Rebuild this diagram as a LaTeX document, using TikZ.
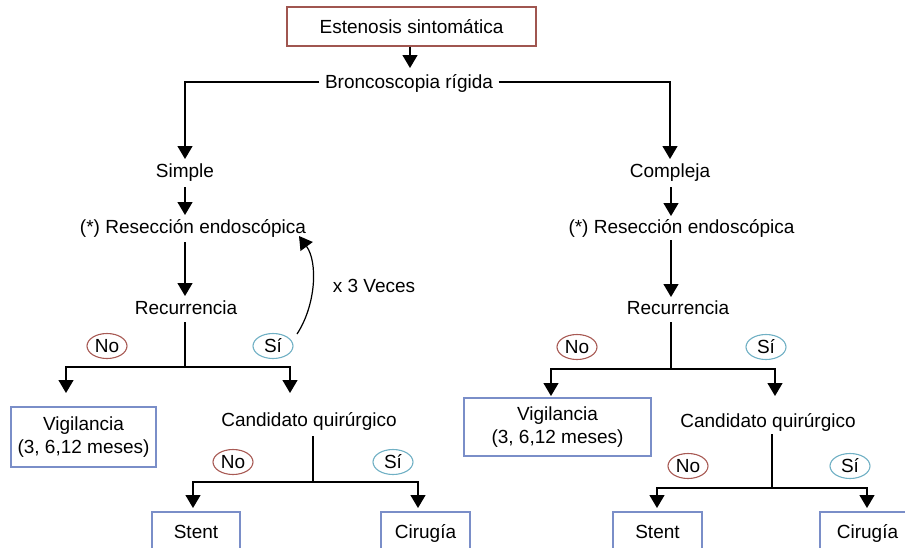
\documentclass[tikz,border=0pt]{standalone}
\usepackage{fontspec}
\setmainfont{Liberation Sans}
\usetikzlibrary{arrows.meta,shapes.geometric}
\definecolor{boxred}{RGB}{160,86,80}
\definecolor{boxblue}{RGB}{122,142,200}
\definecolor{nored}{RGB}{168,90,84}
\definecolor{siblue}{RGB}{112,176,196}
\begin{document}
\begin{tikzpicture}[x=1pt,y=-1pt,
  font=\fontsize{19}{23}\selectfont,
  line width=1.3pt,
  arr/.style={-{Triangle[width=15pt,length=13pt]}},
  txt/.style={inner sep=0pt,text height=13.5pt,text depth=0pt},
  redbox/.style={draw=boxred,line width=1.2pt,inner sep=0pt,text height=13.5pt,text depth=0pt},
  bluebox/.style={draw=boxblue,line width=1.2pt,inner sep=0pt,text height=13.5pt,text depth=0pt},
  vigbox/.style={draw=boxblue,line width=1.2pt,inner sep=0pt,align=center},
  noell/.style={ellipse,draw=nored,line width=1.1pt,inner sep=0pt,minimum width=40pt,minimum height=25pt,text height=13.5pt,text depth=0pt},
  siell/.style={ellipse,draw=siblue,line width=1.1pt,inner sep=0pt,minimum width=40pt,minimum height=25pt,text height=13.5pt,text depth=0pt}
]
\useasboundingbox (0,0) rectangle (905,547);

% top
\node[redbox,minimum width=249pt,minimum height=39pt] (est) at (411.5,26.5) {Estenosis sintomática};
\node[txt,inner xsep=5pt] (bronc) at (409,82) {Broncoscopia rígida};
\draw[arr] (est.south -| 410,0) -- (410,68);
\draw[arr] (bronc.west) -| (185,159);
\draw[arr] (bronc.east) -| (670,159);

% left branch
\node[txt] (simple) at (185,171) {Simple};
\node[txt] (resL) at (193,227) {(*) Resección endoscópica};
\node[txt] (recL) at (186,308) {Recurrencia};
\draw[arr] (simple.south |- 0,187) -- (simple.south |- 0,215);
\draw[arr] (185,242) -- (185,296);
\coordinate (jL) at (185,367);
\draw (jL |- 0,322) -- (jL);
\draw[arr] (jL) -| (66,393);
\draw[arr] (jL) -| (290,393);
\node[noell] (noL) at (107,346) {No};
\node[siell] (siL) at (273,346) {Sí};
\coordinate (loopS) at (297,334);
\coordinate (loopE) at (299,236);
\draw[arr,line width=1.2pt] (loopS) .. controls (316,305) and (318,262) .. (loopE);
\node[txt] (x3) at (374,286) {x 3 Veces};

\node[vigbox,minimum width=145pt,minimum height=60pt] (vigL) at (83.5,437) {Vigilancia\\(3, 6,12 meses)};
\node[txt] (candL) at (309,420) {Candidato quirúrgico};
\coordinate (jL2) at (313,482);
\draw (313,436) -- (jL2);
\draw[arr] (jL2) -| (193,508);
\draw[arr] (jL2) -| (418,508);
\node[noell] (noL2) at (233,462) {No};
\node[siell] (siL2) at (393,462) {Sí};
\node[bluebox,minimum width=88pt,minimum height=40pt] (stentL) at (196,532) {Stent};
\node[bluebox,minimum width=89pt,minimum height=40pt] (cirL) at (425.5,532) {Cirugía};

% right branch
\node[txt] (comp) at (670,171) {Compleja};
\node[txt] (resR) at (681.5,227) {(*) Resección endoscópica};
\node[txt] (recR) at (678,308) {Recurrencia};
\draw[arr] (671,187) -- (671,216);
\draw[arr] (671,240) -- (671,297);
\coordinate (jR) at (671,369);
\draw (jR |- 0,322) -- (jR);
\draw[arr] (jR) -| (551,396);
\draw[arr] (jR) -| (775,396);
\node[noell] (noR) at (577,347) {No};
\node[siell] (siR) at (766,347) {Sí};

\node[vigbox,minimum width=187pt,minimum height=58pt] (vigR) at (557.5,427) {Vigilancia\\(3, 6,12 meses)};
\node[txt] (candR) at (768,421) {Candidato quirúrgico};
\coordinate (jR2) at (772,488);
\draw (772,434) -- (jR2);
\draw[arr] (jR2) -| (657,508);
\draw[arr] (jR2) -| (867,508);
\node[noell] (noR2) at (688,466) {No};
\node[siell] (siR2) at (850,466) {Sí};
\node[bluebox,minimum width=89pt,minimum height=40pt] (stentR) at (657.5,532) {Stent};
\node[bluebox,minimum width=95pt,minimum height=40pt] (cirR) at (867.5,532) {Cirugía};
\end{tikzpicture}
\end{document}
